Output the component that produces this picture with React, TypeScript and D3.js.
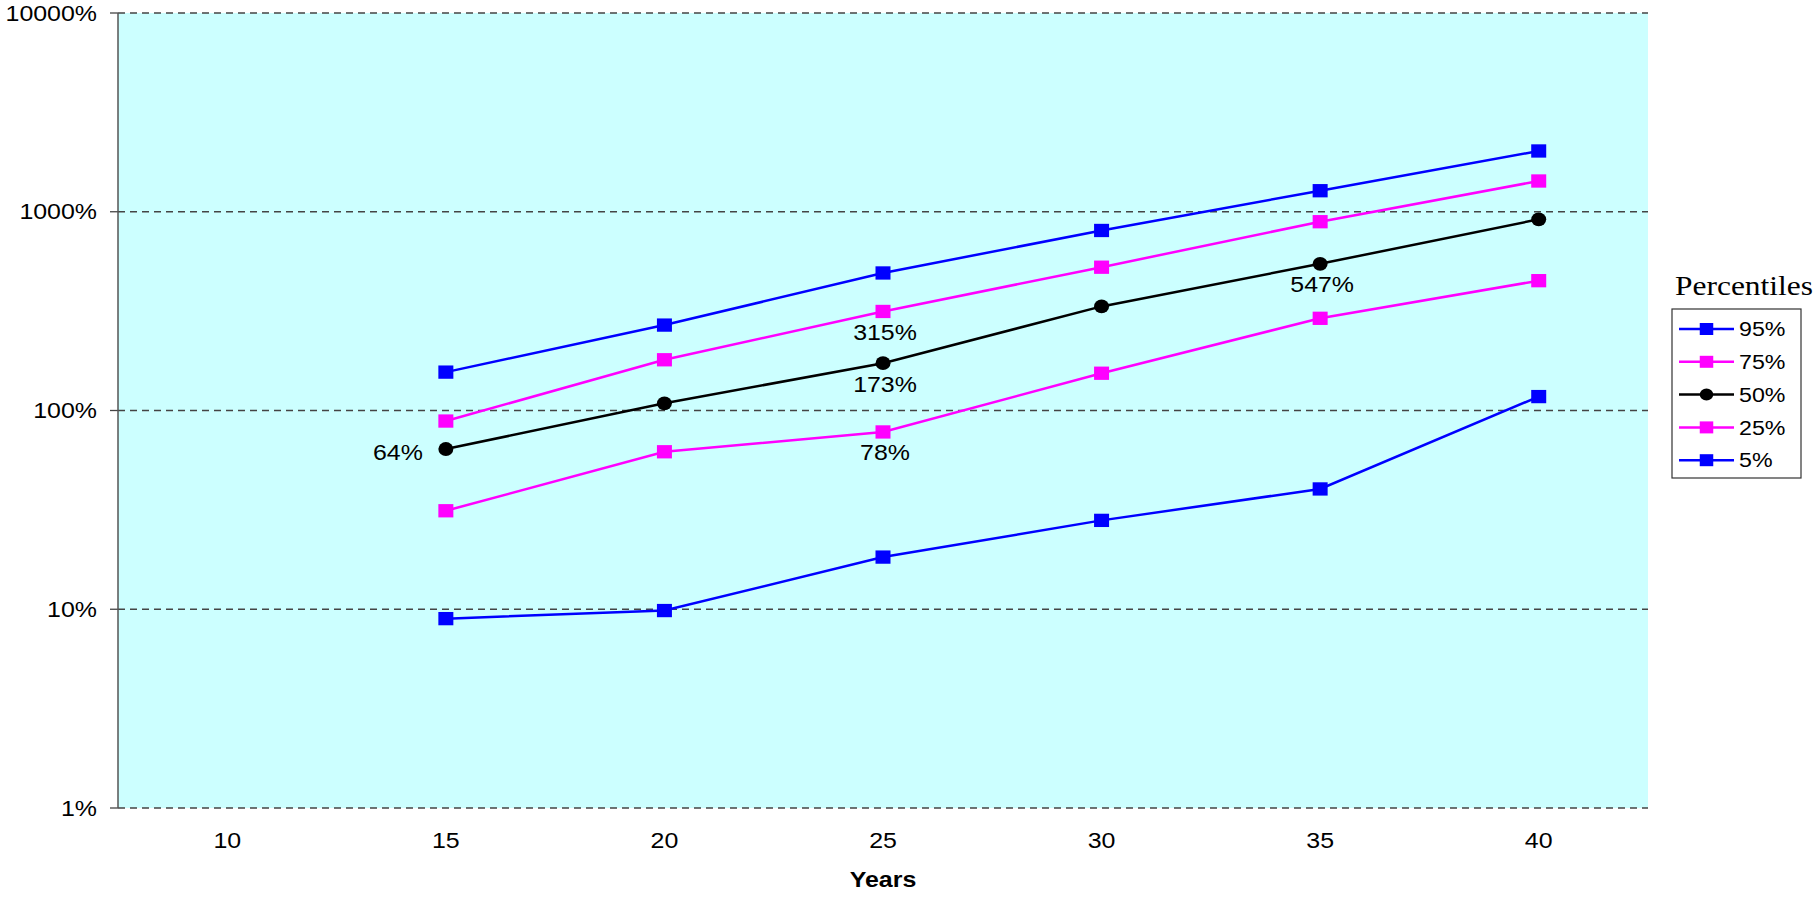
import React from "react";
import * as d3 from "d3";

const categories = [10, 15, 20, 25, 30, 35, 40];
const years = [15, 20, 25, 30, 35, 40];
const p95 = [156, 269, 492, 805, 1276, 2022];
const p75 = [88.5, 180, 315, 526, 891, 1428];
const p50 = [64, 108.7, 173, 334, 547, 916];
const p25 = [31.3, 62, 78, 154, 291, 450];
const p5 = [8.97, 9.85, 18.3, 28, 40.3, 117.5];
const yTicks = [1, 10, 100, 1000, 10000];
const seriesNames = ["95%", "75%", "50%", "25%", "5%"];
const seriesValues = [p95, p75, p50, p25, p5];
const seriesColors = ["#0000FF", "#FF00FF", "#000000", "#FF00FF", "#0000FF"];
const seriesShapes = ["square", "square", "circle", "square", "square"];
// data labels: [series index, point index, placement]
const dataLabels: [number, number, string][] = [
  [2, 0, "left"],
  [1, 2, "below"],
  [2, 2, "below"],
  [3, 2, "below"],
  [2, 4, "below"],
];

const W = 1818;
const H = 899;
const left = 118;
const right = 1648;
const top = 13;
const bottom = 808;
const SX = 1.16;
const FONT = "'Liberation Sans', Arial, Helvetica, sans-serif";

function StretchText(props: {
  x: number;
  y: number;
  size: number;
  anchor?: string;
  weight?: string | number;
  family?: string;
  textLength?: number;
  children: React.ReactNode;
}) {
  const { x, y, size, anchor = "start", weight = "normal", family = FONT, textLength } = props;
  const extra: any = textLength ? { textLength, lengthAdjust: "spacingAndGlyphs" } : {};
  return (
    <text
      transform={`translate(${x},${y}) scale(${SX},1)`}
      fontSize={size}
      fontFamily={family}
      fontWeight={weight}
      textAnchor={anchor}
      fill="#000"
      {...extra}
    >
      {props.children}
    </text>
  );
}

function Marker(props: { shape: string; x: number; y: number; color: string; w: number; h: number }) {
  const { shape, x, y, color, w, h } = props;
  if (shape === "circle") {
    return <ellipse cx={x} cy={y} rx={w / 2} ry={h / 2} fill={color} />;
  }
  return <rect x={x - w / 2} y={y - h / 2} width={w} height={h} fill={color} />;
}

export default function App() {
  const xBand = d3.scaleBand<number>().domain(categories).range([left, right]).padding(0);
  const xc = (v: number) => (xBand(v) as number) + xBand.bandwidth() / 2;
  const y = d3.scaleLog().domain([1, 10000]).range([bottom, top]);
  const line = d3
    .line<number>()
    .x((_, i) => xc(years[i]))
    .y((d) => y(d));

  const legX = 1672;
  const legY = 309;
  const legW = 129;
  const legH = 169;
  const rowY = (i: number) => 329 + i * 32.8;

  return (
    <svg
      width={W}
      height={H}
      style={{ position: "absolute", left: 0, top: 0, background: "#fff" }}
    >
      <rect x={left} y={top} width={right - left} height={bottom - top} fill="#CCFFFF" />
      {yTicks.map((t) => (
        <g key={t}>
          <line
            x1={left}
            x2={right}
            y1={y(t)}
            y2={y(t)}
            stroke="#444"
            strokeWidth={1.3}
            strokeDasharray="7,5"
          />
          <line x1={left - 8} x2={left} y1={y(t)} y2={y(t)} stroke="#444" strokeWidth={1.3} />
          <StretchText x={97} y={y(t) + 7.5} size={21.5} anchor="end">
            {`${t}%`}
          </StretchText>
        </g>
      ))}
      <line x1={left} x2={left} y1={top} y2={bottom} stroke="#555" strokeWidth={1.5} />
      {categories.map((c) => (
        <StretchText key={c} x={xc(c)} y={848} size={21.5} anchor="middle">
          {String(c)}
        </StretchText>
      ))}
      <StretchText x={(left + right) / 2} y={887} size={21.5} anchor="middle" weight="bold">
        Years
      </StretchText>

      {seriesValues.map((vals, si) => (
        <g key={si}>
          <path d={line(vals) as string} fill="none" stroke={seriesColors[si]} strokeWidth={2.5} />
          {vals.map((v, i) => (
            <Marker
              key={i}
              shape={seriesShapes[si]}
              x={xc(years[i])}
              y={y(v)}
              color={seriesColors[si]}
              w={15}
              h={seriesShapes[si] === "circle" ? 13.8 : 13.3}
            />
          ))}
        </g>
      ))}

      {dataLabels.map(([si, pi, place], k) => {
        const v = seriesValues[si][pi];
        const px = xc(years[pi]);
        const py = y(v);
        const txt = `${Math.round(v)}%`;
        if (place === "left") {
          return (
            <StretchText key={k} x={px - 23} y={py + 11} size={21.5} anchor="end">
              {txt}
            </StretchText>
          );
        }
        return (
          <StretchText key={k} x={px + 2} y={py + 28.5} size={21.5} anchor="middle">
            {txt}
          </StretchText>
        );
      })}

      <StretchText
        x={1675}
        y={295}
        size={27.5}
        anchor="start"
        textLength={119}
        family="'Liberation Serif', 'Times New Roman', serif"
      >
        Percentiles
      </StretchText>
      <rect x={legX} y={legY} width={legW} height={legH} fill="#fff" stroke="#333" strokeWidth={1.2} />
      {seriesNames.map((n, i) => (
        <g key={n}>
          <line
            x1={1679}
            x2={1734}
            y1={rowY(i)}
            y2={rowY(i)}
            stroke={seriesColors[i]}
            strokeWidth={2.5}
          />
          <Marker
            shape={seriesShapes[i]}
            x={1706.5}
            y={rowY(i)}
            color={seriesColors[i]}
            w={13.5}
            h={12}
          />
          <StretchText x={1739} y={rowY(i) + 7.2} size={20}>
            {n}
          </StretchText>
        </g>
      ))}
    </svg>
  );
}
